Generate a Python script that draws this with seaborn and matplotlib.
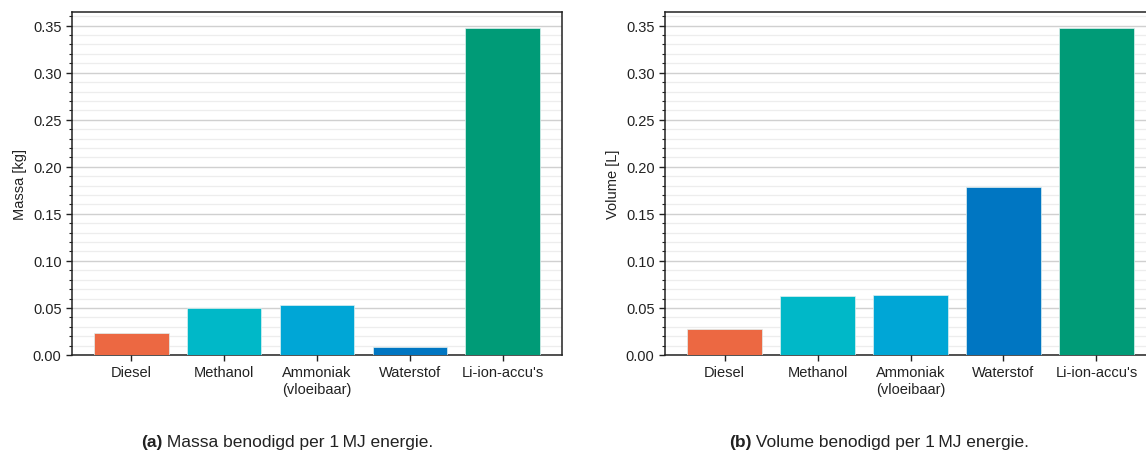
import pandas as pd
import matplotlib
matplotlib.use("Agg")
import matplotlib.pyplot as plt
from matplotlib.ticker import MultipleLocator
import seaborn as sns

categories = ["Diesel", "Methanol", "Ammoniak\n(vloeibaar)", "Waterstof", "Li-ion-accu's"]
massa = [0.0234, 0.0496, 0.0531, 0.0082, 0.347]
volume = [0.0273, 0.0627, 0.0638, 0.1789, 0.347]
colors = ["#EC6842", "#00B8C8", "#00A6D6", "#0076C2", "#009B77"]

sns.set_style("ticks")
plt.rcParams['font.family'] = ['Liberation Sans', 'DejaVu Sans']
plt.rcParams['font.size'] = 10.5

fig = plt.figure(figsize=(11.46, 4.52), dpi=100)
W, H = 1146, 452
ax1 = fig.add_axes([72 / W, (H - 356) / H, 490 / W, 343 / H])
ax2 = fig.add_axes([665 / W, (H - 356) / H, 491 / W, 343 / H])


def draw_panel(ax, values, ylabel):
    df = pd.DataFrame({"cat": categories, "val": values})
    sns.barplot(data=df, x="cat", y="val", hue="cat", palette=colors, legend=False,
                saturation=1, width=0.8, edgecolor="#dff0f0", linewidth=0.5, ax=ax, zorder=3)
    ax.set_xlim(-0.64, 4.64)
    ax.set_ylim(0, 0.3645)
    ax.yaxis.set_major_locator(MultipleLocator(0.05))
    ax.yaxis.set_minor_locator(MultipleLocator(0.01))
    ax.yaxis.set_major_formatter(matplotlib.ticker.FormatStrFormatter("%.2f"))
    ax.grid(axis="y", which="major", color="#d0d0d0", linewidth=1.0, zorder=0)
    ax.grid(axis="y", which="minor", color="#ededed", linewidth=0.9, zorder=0)
    ax.set_axisbelow(True)
    ax.set_xlabel("")
    ax.set_ylabel(ylabel, fontsize=10.5, color="#222222")
    ax.tick_params(axis="both", which="major", direction="out", length=4, width=1,
                   labelsize=10.5, labelcolor="#222222", color="#222222")
    ax.tick_params(axis="y", which="minor", direction="out", length=2.5, width=0.8, color="#222222")
    for s in ax.spines.values():
        s.set_visible(True)
        s.set_color("#222222")
        s.set_linewidth(1.1)


draw_panel(ax1, massa, "Massa [kg]")
draw_panel(ax2, volume, "Volume [L]")

# captions: bold "(a)" followed by regular text, centred as a whole
fig.canvas.draw()
renderer = fig.canvas.get_renderer()


def caption(xc, label, text):
    y = 1 - 443 / H
    t1 = fig.text(0, y, label, fontsize=12.5, fontweight="bold", va="center", color="#222222")
    t2 = fig.text(0, y, " " + text, fontsize=12.5, va="center", color="#222222")
    w1 = t1.get_window_extent(renderer).width
    w2 = t2.get_window_extent(renderer).width
    x0 = xc - (w1 + w2) / 2
    t1.set_x(x0 / W)
    t2.set_x((x0 + w1) / W)


caption(287, "(a)", "Massa benodigd per 1\u2009MJ energie.")
caption(879, "(b)", "Volume benodigd per 1\u2009MJ energie.")

fig.savefig("out.png", dpi=100)
